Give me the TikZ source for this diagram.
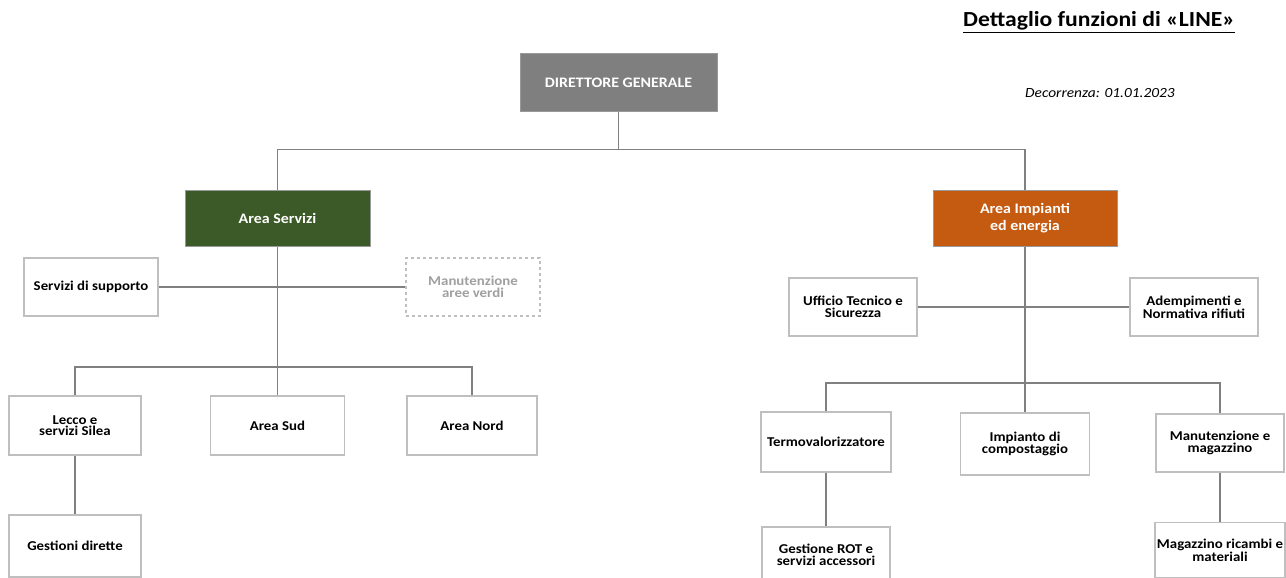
\documentclass[tikz,border=0pt]{standalone}
\usepackage{fontspec}
\setmainfont[FakeStretch=1.1]{Carlito}
\definecolor{linegray}{HTML}{808080}
\definecolor{boxgray}{HTML}{BFBFBF}
\definecolor{dggray}{HTML}{7F7F7F}
\definecolor{areagreen}{HTML}{3C5A27}
\definecolor{areaorange}{HTML}{C55A11}
\definecolor{dashtext}{HTML}{A0A0A0}
\begin{document}
\begin{tikzpicture}[x=1pt,y=-1pt,
  box/.style={draw=boxgray, line width=1.3pt, fill=white, align=center, inner sep=2pt,
    font=\bfseries\fontsize{13.5}{11.5}\selectfont, text=black},
  headbox/.style={draw=boxgray!80!black, line width=1pt, align=center, inner sep=2pt,
    text=white, font=\bfseries\fontsize{14.5}{17}\selectfont},
  dashbox/.style={box, dashed, text=dashtext},
  conn/.style={draw=linegray, line width=1.4pt}]
\useasboundingbox (0,0) rectangle (1286,578);
\fill[white] (0,0) rectangle (1286,578);

% title
\node[anchor=base west, inner sep=0pt, font=\bfseries\fontsize{21.5}{24}\selectfont] (title) at (963,27) {\underline{Dettaglio funzioni di «LINE»}};
\node[anchor=base west, inner sep=0pt, font=\itshape\fontsize{14}{16}\selectfont] (date) at (1025,98) {Decorrenza: 01.01.2023};

% top
\node[headbox, fill=dggray, minimum width=197pt, minimum height=57pt] (dg) at (618.5,82.5) {DIRETTORE GENERALE};
\node[headbox, fill=areagreen, minimum width=185pt, minimum height=56pt] (as) at (277.5,218) {Area Servizi};
\node[headbox, fill=areaorange, minimum width=184pt, minimum height=56pt] (ai) at (1025,218) {Area Impianti\\ed energia};

% left side
\node[box, minimum width=134pt, minimum height=58pt] (ss) at (91,287) {Servizi di supporto};
\node[dashbox, minimum width=134pt, minimum height=58pt] (mav) at (473,287) {Manutenzione\\aree verdi};
\node[box, minimum width=132pt, minimum height=59pt] (lecco) at (75,425.5) {Lecco e\\servizi Silea};
\node[box, minimum width=134pt, minimum height=59pt] (sud) at (277.5,425.5) {Area Sud};
\node[box, minimum width=130pt, minimum height=59pt] (nord) at (472,425.5) {Area Nord};
\node[box, minimum width=132pt, minimum height=62pt] (gd) at (75,546) {Gestioni dirette};

% right side
\node[box, minimum width=128pt, minimum height=58pt] (ut) at (853,307) {Ufficio Tecnico e\\Sicurezza};
\node[box, minimum width=128pt, minimum height=58pt] (ad) at (1194,307) {Adempimenti e\\Normativa rifiuti};
\node[box, minimum width=130pt, minimum height=60pt] (termo) at (826,442) {Termovalorizzatore};
\node[box, minimum width=129pt, minimum height=62pt] (comp) at (1025,444) {Impianto di\\compostaggio};
\node[box, minimum width=128pt, minimum height=58pt] (manm) at (1220,443) {Manutenzione e\\magazzino};
\node[box, minimum width=128pt, minimum height=56pt] (rot) at (826,555) {Gestione ROT e\\servizi accessori};
\node[box, minimum width=129pt, minimum height=55pt] (mag) at (1220,550) {Magazzino ricambi e\\materiali};

\coordinate (jl) at (277.5,367);
\coordinate (jr) at (1025,383);

% connectors
\path[conn] (dg.south) -- (dg.south |- 0,150);
\path[conn] (as.north) -- ++(0,-40) -| (ai.north);
\path[conn] (ss.east) -- (mav.west);
\path[conn] (as.south) -- (sud.north);
\path[conn] (lecco.north) |- (jl) -| (nord.north);
\path[conn] (lecco.south) -- (gd.north);
\path[conn] (ut.east) -- (ad.west);
\path[conn] (ai.south) -- (comp.north);
\path[conn] (termo.north) |- (jr) -| (manm.north);
\path[conn] (termo.south) -- (rot.north);
\path[conn] (manm.south) -- (mag.north);
\end{tikzpicture}
\end{document}
